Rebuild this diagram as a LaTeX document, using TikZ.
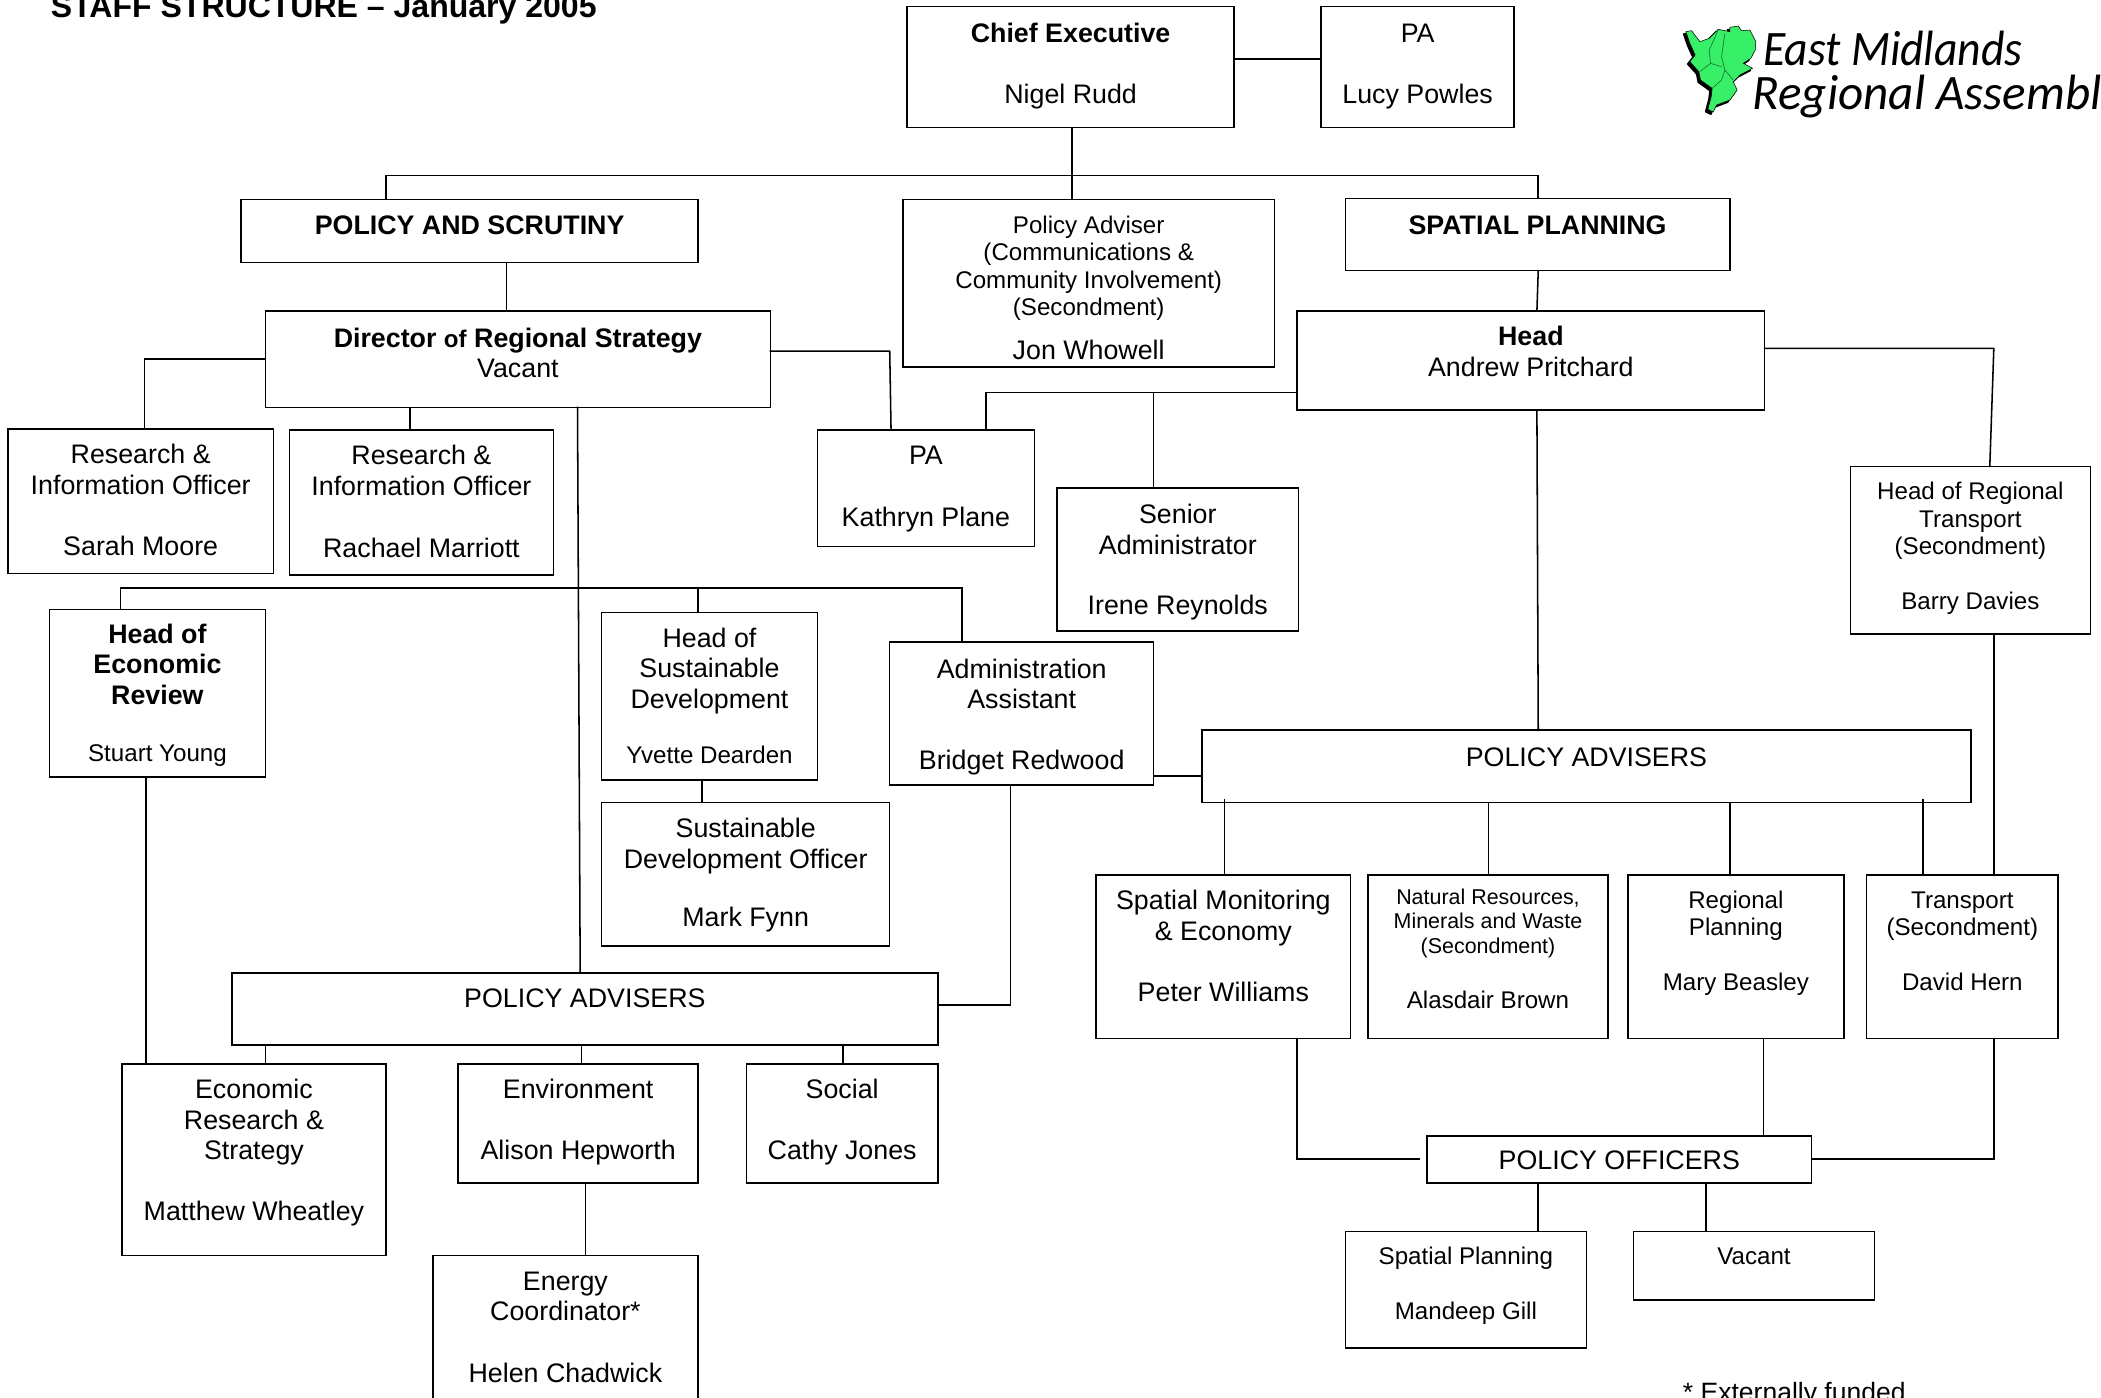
\documentclass[tikz,border=0pt]{standalone}
\usepackage{fontspec}
\setmainfont{Liberation Sans}
\newfontfamily\logofont{Carlito}
\newlength\bxw
\newlength\bxh
% name, x1, y1, x2, y2, font size, first baseline, text
\newcommand\bx[8]{%
  \setlength\bxw{\dimexpr #4pt-#2pt\relax}%
  \setlength\bxh{\dimexpr #5pt-#3pt\relax}%
  \node[orgbox,anchor=north west] (#1) at (#2,#3) {%
    \vbox to \bxh{\hsize=\bxw \fontsize{#6}{\fpeval{#6*1.14}}\selectfont
      \lineskiplimit=-100pt \parindent=0pt \parskip=0pt \centering
      \hbox{}\vskip\dimexpr #7pt-#3pt-\baselineskip\relax
      #8\par\vss}};}
\newcommand\blk{\\[\baselineskip]}
\newcommand\sz[1]{\fontsize{#1}{\fpeval{#1*1.14}}\selectfont}
\newcommand\mapoutline{(108,95) -- (125,92) -- (150,125) -- (178,115) -- (205,88) -- (240,95) -- (240,82) -- (265,78) -- (275,92) -- (300,90) -- (318,125) -- (316,150) -- (303,175) -- (280,190) -- (308,205) -- (270,225) -- (250,245) -- (262,270) -- (240,300) -- (200,315) -- (190,336) -- (174,328) -- (184,290) -- (187,265) -- (152,240) -- (147,215) -- (120,185) -- (136,165) -- (120,130) -- cycle}
\definecolor{mapgreen}{RGB}{56,240,104}
\definecolor{mapline}{RGB}{20,120,50}
\tikzset{
  orgbox/.style={draw=black,line width=1.15pt,inner sep=0pt,outer sep=0pt},
  link/.style={draw=black,line width=1.15pt,line cap=rect},
  plain/.style={inner sep=0pt,outer sep=0pt,anchor=base west,text=black},
  maparea/.style={line join=round},
  mapborder/.style={draw=mapline,line width=.5pt},
}
\begin{document}
\begin{tikzpicture}[x=1pt,y=-1pt]
\useasboundingbox (0,0) rectangle (1568,1043.3);
\fill[white] (0,0) rectangle (1568,1043.3);

\node[plain] (title) at (38,13) {\fontsize{23.9}{27}\selectfont\bfseries STAFF STRUCTURE -- January 2005};
\node[plain] (note) at (1256,1046) {\fontsize{19.8}{23}\selectfont * Externally funded};

% logo
\begin{scope}[shift={(1231.3,0)},x=.2488pt,y=-.2488pt]
  \draw[maparea,fill=black,draw=black,line width=1pt,shift={(-7,7)}] \mapoutline;
  \draw[maparea,fill=mapgreen,draw=black,line width=.4pt] \mapoutline;
  \draw[mapborder] (205,90) -- (178,150) -- (182,190) -- (150,215);
  \draw[mapborder] (225,100) -- (215,170) -- (225,210) -- (215,240) -- (187,265);
  \draw[mapborder] (182,190) -- (215,200);
  \draw[mapborder] (225,210) -- (250,240);
\end{scope}
\node[plain,xscale=.92,transform shape] (logoa) at (1316,49) {\logofont\itshape\fontsize{37}{40}\selectfont East Midlands};
\node[plain,xscale=.99,transform shape] (logob) at (1308,82) {\logofont\itshape\fontsize{37}{40}\selectfont Regional Assembly};

% boxes
\bx{ce}{677}{5}{921}{95}{20}{32}{\bfseries Chief Executive\blk\mdseries Nigel Rudd}
\bx{paone}{986}{5}{1130}{95}{20}{32}{PA\blk Lucy Powles}
\bx{ps}{180}{149}{521}{196}{20}{175}{\bfseries POLICY AND SCRUTINY}
\bx{adv}{674}{149}{951}{274}{18}{174}{Policy Adviser\\(Communications \&\\Community Involvement)\\(Secondment)\\[10pt]\sz{20}Jon Whowell}
\bx{sp}{1004}{148}{1291}{202}{20}{175}{\bfseries SPATIAL PLANNING}
\bx{dir}{198}{232}{575}{304}{20}{259}{\textbf{Director {\sz{18}of} Regional Strategy}\\Vacant}
\bx{head}{968}{232}{1317}{306}{20}{258}{\textbf{Head}\\Andrew Pritchard}
\bx{rone}{6}{320}{204}{428}{20}{346}{Research \&\\Information Officer\blk Sarah Moore}
\bx{rtwo}{216}{321}{413}{429}{20}{347}{Research \&\\Information Officer\\[23.8pt]Rachael Marriott}
\bx{patwo}{610}{321}{772}{408}{20}{347}{PA\blk Kathryn Plane}
\bx{sa}{789}{364}{969}{471}{20}{391}{Senior\\Administrator\\[22pt]Irene Reynolds}
\bx{hrt}{1381}{348}{1560}{473}{18}{373}{Head of Regional\\Transport\\(Secondment)\blk Barry Davies}
\bx{her}{37}{455}{198}{580}{20}{480}{\textbf{Head of}\\\textbf{Economic}\\\textbf{Review}\\[22pt]\sz{18}Stuart Young}
\bx{hsd}{449}{457}{610}{582}{20}{483}{Head of\\Sustainable\\Development\\[21pt]\sz{18}Yvette Dearden}
\bx{adm}{664}{479}{861}{586}{20}{506}{Administration\\Assistant\blk Bridget Redwood}
\bx{par}{897}{545}{1471}{599}{20}{572}{POLICY ADVISERS}
\bx{sdo}{449}{599}{664}{706}{20}{625}{Sustainable\\Development Officer\\[21pt]Mark Fynn}
\bx{smon}{818}{653}{1008}{775}{20}{679}{Spatial Monitoring\\\& Economy\blk Peter Williams}
\bx{nat}{1021}{653}{1200}{775}{16}{675}{Natural Resources,\\Minerals and Waste\\(Secondment)\\[21pt]\sz{18}Alasdair Brown}
\bx{reg}{1215}{653}{1376}{775}{18}{678}{Regional\\Planning\blk Mary Beasley}
\bx{trans}{1393}{653}{1536}{775}{18}{678}{Transport\\(Secondment)\blk David Hern}
\bx{pal}{173}{726}{700}{780}{20}{752}{POLICY ADVISERS}
\bx{eco}{91}{794}{288}{937}{20}{820}{Economic\\Research \&\\Strategy\blk Matthew Wheatley}
\bx{env}{342}{794}{521}{883}{20}{820}{Environment\blk Alison Hepworth}
\bx{soc}{557}{794}{700}{883}{20}{820}{Social\blk Cathy Jones}
\bx{nrg}{323}{937}{521}{1060}{20}{963}{Energy\\Coordinator*\blk Helen Chadwick}
\bx{po}{1065}{848}{1352}{883}{20}{873}{POLICY OFFICERS}
\bx{spl}{1004}{919}{1184}{1006}{18}{944}{Spatial Planning\blk Mandeep Gill}
\bx{vac}{1219}{919}{1399}{970}{18}{944}{Vacant}

% junctions
\coordinate (busal) at (288,131);
\coordinate (busar) at (1148,131);
\coordinate (busbl) at (90,439);
\coordinate (busbm) at (521,439);
\coordinate (busbr) at (718,439);
\coordinate (hl) at (861,293);
\coordinate (poend) at (1059,865);
\coordinate (parl) at (914,597);
\coordinate (parr) at (1435,597);

% connectors
\draw[link] (ce.east |- 0,44) -- (paone.west |- 0,44);
\draw[link] (ce.south -| 800,0) -- (adv.north -| 800,0);
\draw[link] (busal) -- (busar);
\draw[link] (busal) -- (ps.north -| busal);
\draw[link] (busar) -- (sp.north -| busar);
\draw[link] (ps.south -| 378,0) -- (dir.north -| 378,0);
\draw[link] (sp.south -| 1148,0) -- (head.north -| 1147,0);
\draw[link] (dir.west |- 0,268) -| (rone.north -| 108,0);
\draw[link] (dir.south -| 306,0) -- (rtwo.north -| 306,0);
\draw[link] (dir.east |- 0,262) -- (664,262) -- (patwo.north -| 665,0);
\draw[link] (head.west |- 0,293) -- (736,293) -- (patwo.north -| 736,0);
\draw[link] (hl) -- (sa.north -| hl);
\draw[link] (head.south -| 1147,0) -- (par.north -| 1148,0);
\draw[link] (head.east |- 0,260) -- (1488,260) -- (hrt.north -| 1485,0);
\draw[link] (hrt.south -| 1488,0) -- (trans.north -| 1488,0);
\draw[link] (dir.south -| 431,0) -- (pal.north -| 433,0);
\draw[link] (busbl) -- (busbr);
\draw[link] (busbl) -- (her.north -| busbl);
\draw[link] (busbm) -- (hsd.north -| busbm);
\draw[link] (busbr) -- (adm.north -| busbr);
\draw[link] (her.south -| 109,0) -- (eco.north -| 109,0);
\draw[link] (hsd.south -| 524,0) -- (sdo.north -| 524,0);
\draw[link] (adm.south -| 754,0) -- (754,750) -- (pal.east |- 0,750);
\draw[link] (adm.east |- 0,579) -- (par.west |- 0,579);
\draw[link] (pal.south -| 198,0) -- (eco.north -| 198,0);
\draw[link] (pal.south -| 434,0) -- (env.north -| 434,0);
\draw[link] (pal.south -| 629,0) -- (soc.north -| 629,0);
\draw[link] (env.south -| 437,0) -- (nrg.north -| 437,0);
\draw[link] (parl) -- (smon.north -| parl);
\draw[link] (par.south -| 1111,0) -- (nat.north -| 1111,0);
\draw[link] (par.south -| 1291,0) -- (reg.north -| 1291,0);
\draw[link] (parr) -- (trans.north -| parr);
\draw[link] (smon.south -| 968,0) -- (968,865) -- (poend);
\draw[link] (reg.south -| 1316,0) -- (po.north -| 1316,0);
\draw[link] (trans.south -| 1488,0) -- (1488,865) -- (po.east |- 0,865);
\draw[link] (po.south -| 1148,0) -- (spl.north -| 1148,0);
\draw[link] (po.south -| 1273,0) -- (vac.north -| 1273,0);
\end{tikzpicture}
\end{document}
